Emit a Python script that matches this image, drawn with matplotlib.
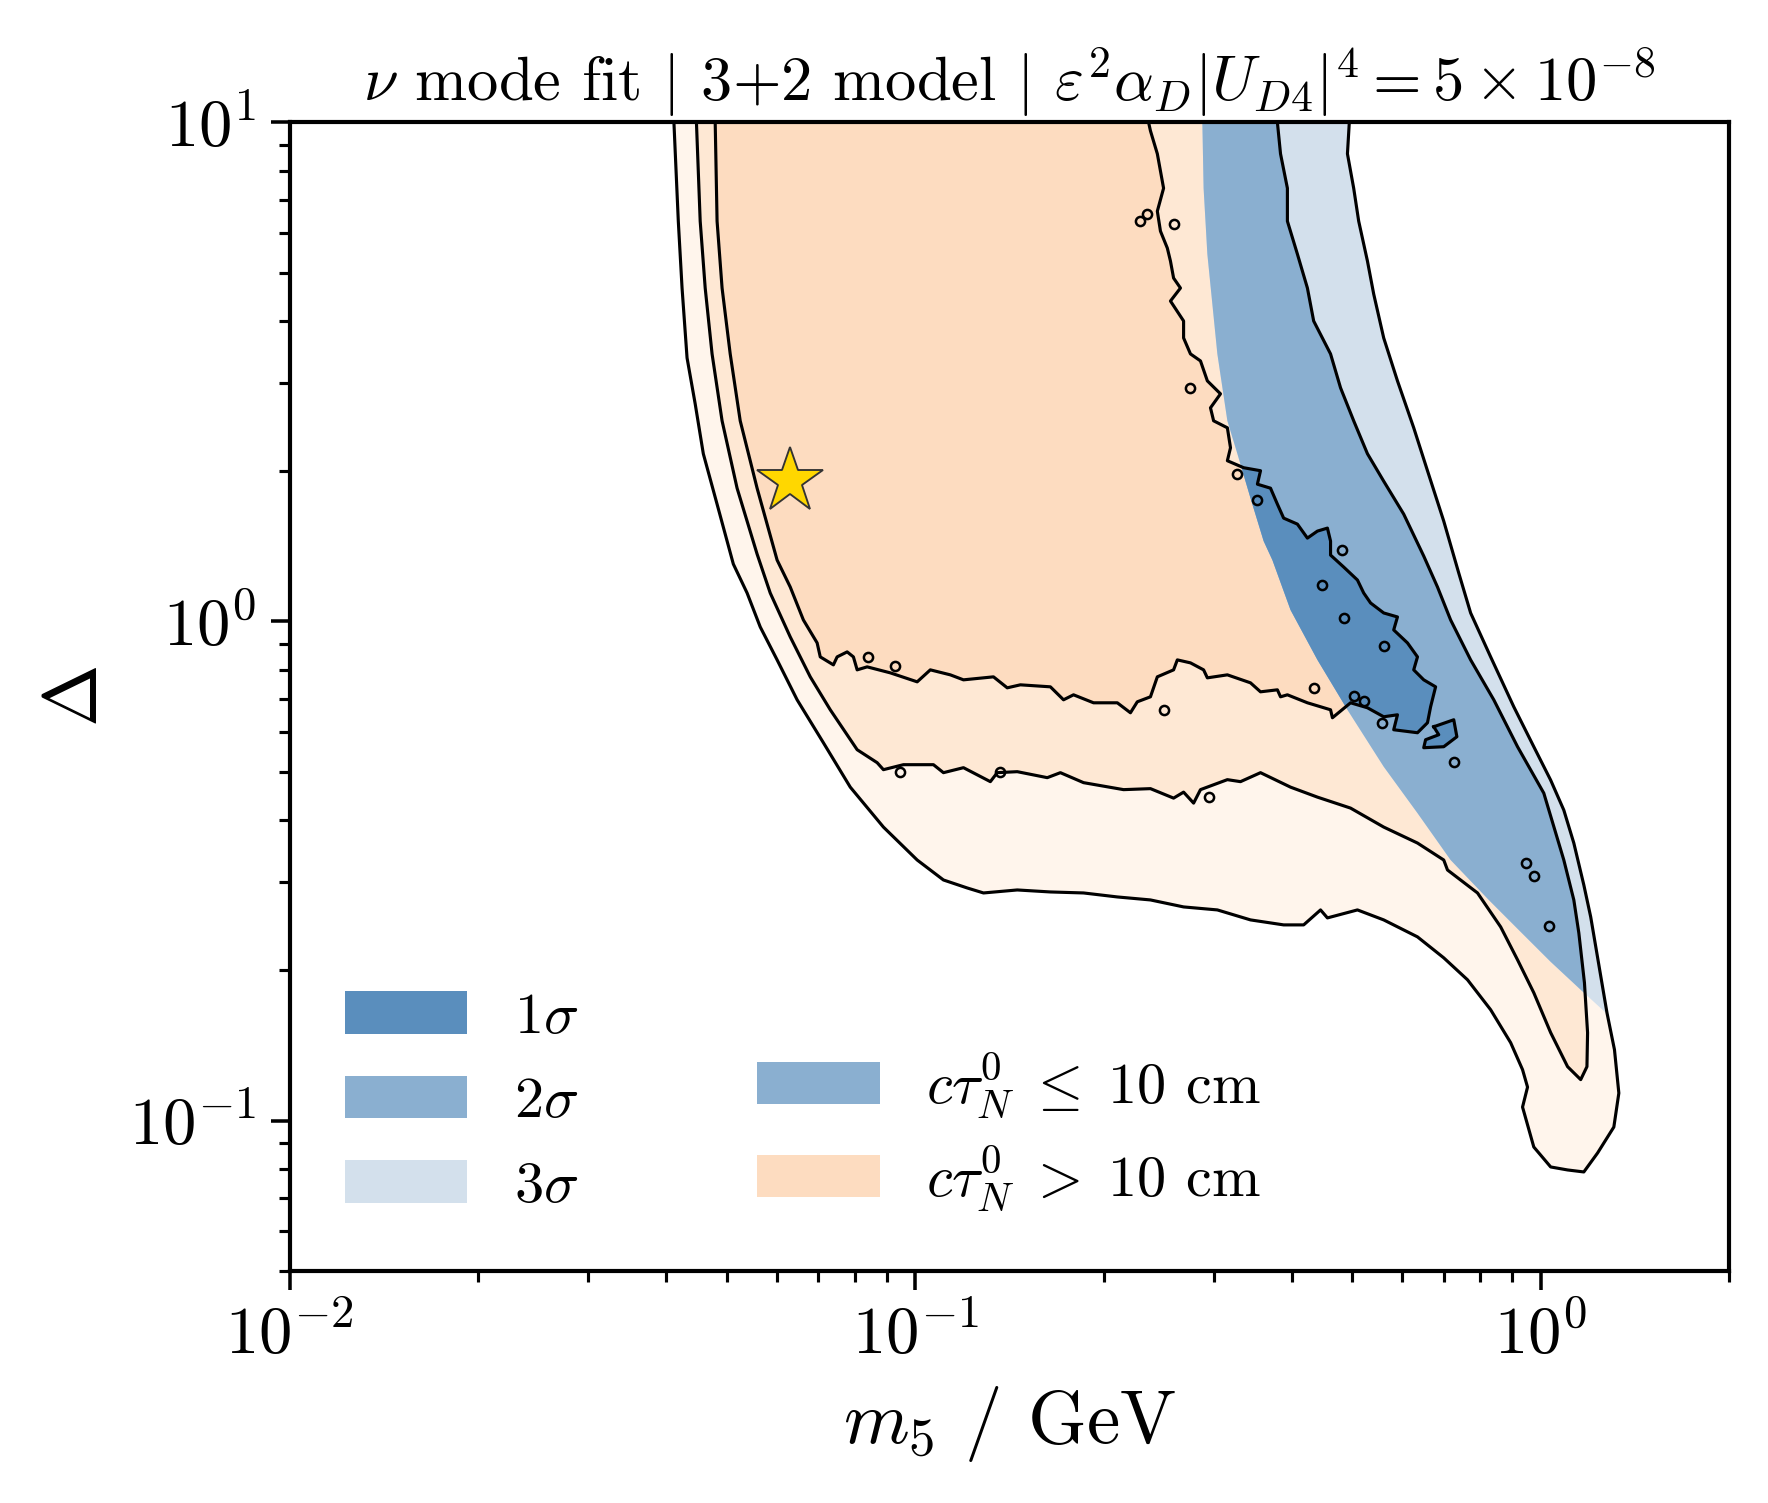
import numpy as np
import matplotlib
matplotlib.use("Agg")
import matplotlib.pyplot as plt
from matplotlib.patches import Polygon, Patch

plt.rcParams.update({
    "font.family": "serif",
    "font.serif": ["cmr10"],
    "mathtext.fontset": "cm",
    "axes.unicode_minus": False,
    "axes.formatter.use_mathtext": True,
})

# ---------------- data (log10 m5 [GeV], log10 Delta) ----------------
# 3 sigma contour (open path, from top-left, around the bottom, back up to the top-right)
sig3_log_m5 = [-1.386, -1.384, -1.379, -1.373, -1.365, -1.352, -1.339, -1.317, -1.291, -1.269,
               -1.248, -1.221, -1.189, -1.147, -1.104, -1.051, -0.997, -0.955, -0.917, -0.891,
               -0.837, -0.784, -0.731, -0.677, -0.624, -0.571, -0.517, -0.464, -0.411, -0.379,
               -0.352, -0.341, -0.293, -0.251, -0.197, -0.155, -0.117, -0.080, -0.048, -0.029,
               -0.021, -0.029, -0.011, 0.016, 0.043, 0.069, 0.091, 0.117, 0.125, 0.118,
               0.106, 0.093, 0.080, 0.069, 0.053, 0.037, 0.016, -0.011, -0.043, -0.080,
               -0.112, -0.131, -0.155, -0.181, -0.203, -0.229, -0.251, -0.267, -0.277, -0.291,
               -0.299, -0.309, -0.306]
sig3_log_delta = [1.000, 0.943, 0.802, 0.668, 0.528, 0.436, 0.336, 0.235, 0.115, 0.057,
                  -0.011, -0.077, -0.157, -0.243, -0.332, -0.412, -0.478, -0.518, -0.534, -0.544,
                  -0.538, -0.542, -0.544, -0.552, -0.558, -0.572, -0.578, -0.598, -0.608, -0.608,
                  -0.578, -0.594, -0.578, -0.598, -0.632, -0.674, -0.718, -0.778, -0.844, -0.898,
                  -0.933, -0.973, -1.053, -1.093, -1.099, -1.103, -1.065, -1.013, -0.945, -0.858,
                  -0.784, -0.688, -0.592, -0.528, -0.444, -0.378, -0.318, -0.251, -0.171, -0.071,
                  0.017, 0.097, 0.201, 0.302, 0.388, 0.482, 0.568, 0.656, 0.722, 0.802,
                  0.868, 0.937, 1.000]

# 2 sigma contour
sig2_log_m5 = [-1.350, -1.344, -1.336, -1.325, -1.309, -1.285, -1.253, -1.232, -1.200, -1.168,
               -1.136, -1.093, -1.061, -1.051, -1.019, -0.971, -0.955, -0.923, -0.880, -0.869,
               -0.837, -0.789, -0.768, -0.731, -0.667, -0.624, -0.587, -0.571, -0.555, -0.544,
               -0.501, -0.480, -0.448, -0.400, -0.357, -0.304, -0.251, -0.197, -0.155, -0.149,
               -0.101, -0.064, -0.037, -0.011, 0.016, 0.043, 0.064, 0.074, 0.075, 0.070,
               0.061, 0.053, 0.037, 0.005, -0.037, -0.075, -0.112, -0.144, -0.165, -0.187,
               -0.219, -0.251, -0.277, -0.299, -0.320, -0.336, -0.363, -0.373, -0.389, -0.405,
               -0.405, -0.416, -0.421]
sig2_log_delta = [1.000, 0.802, 0.668, 0.536, 0.402, 0.267, 0.135, 0.057, -0.031, -0.111,
                  -0.177, -0.257, -0.283, -0.297, -0.287, -0.287, -0.303, -0.293, -0.321, -0.303,
                  -0.301, -0.313, -0.303, -0.323, -0.337, -0.335, -0.354, -0.342, -0.364, -0.337,
                  -0.317, -0.321, -0.303, -0.332, -0.352, -0.374, -0.412, -0.444, -0.478, -0.498,
                  -0.544, -0.612, -0.678, -0.744, -0.824, -0.892, -0.918, -0.892, -0.824, -0.724,
                  -0.624, -0.558, -0.478, -0.344, -0.251, -0.157, -0.077, 0.003, 0.069, 0.131,
                  0.215, 0.281, 0.336, 0.402, 0.468, 0.536, 0.602, 0.668, 0.736, 0.802,
                  0.868, 0.937, 1.000]

# 1 sigma contour
sig1_log_m5 = [-1.320, -1.317, -1.309, -1.296, -1.280, -1.253, -1.221, -1.200, -1.179, -1.157,
               -1.152, -1.131, -1.125, -1.109, -1.099, -1.093, -1.077, -1.040, -0.997, -0.976,
               -0.944, -0.923, -0.875, -0.853, -0.832, -0.784, -0.763, -0.747, -0.715, -0.677,
               -0.656, -0.645, -0.624, -0.613, -0.587, -0.581, -0.560, -0.539, -0.533, -0.501,
               -0.464, -0.448, -0.421, -0.416, -0.405, -0.373, -0.336, -0.333, -0.304, -0.277,
               -0.251, -0.229, -0.235, -0.197, -0.181, -0.176, -0.168, -0.187, -0.203, -0.197,
               -0.213, -0.235, -0.229, -0.251, -0.272, -0.283, -0.293, -0.315, -0.336, -0.336,
               -0.341, -0.357, -0.373, -0.389, -0.411, -0.421, -0.432, -0.453, -0.448, -0.475,
               -0.501, -0.496, -0.501, -0.523, -0.528, -0.512, -0.533, -0.544, -0.560, -0.571,
               -0.571, -0.592, -0.576, -0.587, -0.592, -0.597, -0.608, -0.613, -0.603, -0.613,
               -0.624, -0.627]
sig1_log_delta = [1.000, 0.802, 0.668, 0.536, 0.402, 0.267, 0.123, 0.069, 0.003, -0.043,
                  -0.071, -0.087, -0.071, -0.061, -0.071, -0.097, -0.091, -0.103, -0.121, -0.097,
                  -0.107, -0.117, -0.111, -0.133, -0.127, -0.131, -0.157, -0.147, -0.163, -0.163,
                  -0.183, -0.161, -0.151, -0.111, -0.097, -0.077, -0.083, -0.097, -0.113, -0.107,
                  -0.123, -0.141, -0.137, -0.151, -0.147, -0.163, -0.177, -0.193, -0.163, -0.173,
                  -0.191, -0.187, -0.217, -0.223, -0.203, -0.171, -0.131, -0.117, -0.097, -0.071,
                  -0.043, -0.017, 0.009, 0.017, 0.037, 0.057, 0.083, 0.109, 0.133, 0.161,
                  0.187, 0.181, 0.167, 0.195, 0.207, 0.235, 0.267, 0.275, 0.302, 0.308,
                  0.322, 0.348, 0.388, 0.402, 0.428, 0.456, 0.482, 0.522, 0.536, 0.568,
                  0.602, 0.642, 0.668, 0.688, 0.722, 0.748, 0.782, 0.822, 0.868, 0.937,
                  0.983, 1.000]

# detached 1 sigma lobe
lobe_log_m5 = [-0.171, -0.139, -0.134, -0.155, -0.187, -0.184, -0.163, -0.171]
lobe_log_delta = [-0.211, -0.197, -0.231, -0.251, -0.253, -0.237, -0.227, -0.211]

# small closed contour islands
island_log_m5 = [-0.349, -0.314, -0.251, -0.363, -0.299, -0.283, -0.254, -0.602, -0.138,
                 -0.024, -0.011, 0.013, -0.530, -0.587, -0.560, -0.486, -0.453, -0.317,
                 -0.640, -0.629, -1.075, -1.032, -1.024, -0.864]
island_log_delta = [0.073, 0.007, -0.049, -0.133, -0.149, -0.159, -0.203, -0.177, -0.281,
                    -0.484, -0.510, -0.610, -0.352, 0.796, 0.468, 0.295, 0.243, 0.143,
                    0.802, 0.816, -0.071, -0.089, -0.301, -0.301]

# c tau_N^0 = 10 cm boundary
ctau_log_m5 = [-0.541, -0.539, -0.533, -0.525, -0.517, -0.501, -0.485, -0.464, -0.443, -0.429,
               -0.400, -0.357, -0.309, -0.251, -0.197, -0.144, -0.083, -0.032, 0.016, 0.064, 0.104]
ctau_log_delta = [1.000, 0.868, 0.736, 0.636, 0.536, 0.402, 0.336, 0.247, 0.161, 0.123,
                  0.023, -0.077, -0.177, -0.291, -0.384, -0.478, -0.558, -0.622, -0.682, -0.738, -0.784]

# best fit point
star_m5 = 0.0631
star_delta = 1.91

sigma_labels = [r"$1\sigma$", r"$2\sigma$", r"$3\sigma$"]
ctau_labels = [r"$c\tau_N^0 \;\leq\; 10$ cm", r"$c\tau_N^0 \;>\; 10$ cm"]
title = (r"$\nu$ mode fit $|$ 3+2 model $|$ "
         r"$\varepsilon^2\alpha_D|U_{D4}|^4 = 5\times 10^{-8}$")

# ---------------- styling ----------------
orange = ["#fddcc0", "#fee8d4", "#fff5ec"]   # 1, 2, 3 sigma
blue = ["#5a8ebd", "#8aafd0", "#d3e0ec"]

fig = plt.figure(figsize=(1768 / 300, 1503 / 300), dpi=300)
ax = fig.add_axes([0.1640, 0.1545, 0.8139, 0.7641])
ax.set_xscale("log")
ax.set_yscale("log")
ax.set_xlim(0.01, 2)
ax.set_ylim(0.05, 10)

bx = np.array(ctau_log_m5)
by = np.array(ctau_log_delta)
ex, ey = bx[-1] + 0.5, by[-1] - 0.55
blue_side = np.vstack([[bx[0], 2.0]] + [list(p) for p in zip(bx, by)]
                      + [[ex, ey], [3.0, ey], [3.0, 2.0]])
blue_clip = Polygon(10 ** blue_side, closed=True, transform=ax.transData)


def fill_region(lx, ly, color, clip=None):
    verts = 10 ** np.column_stack([lx, ly])
    p = Polygon(verts, closed=True, facecolor=color, edgecolor="none", lw=0)
    ax.add_patch(p)
    if clip is not None:
        p.set_clip_path(clip)


regions = [(sig3_log_m5, sig3_log_delta, 2), (sig2_log_m5, sig2_log_delta, 1),
           (sig1_log_m5, sig1_log_delta, 0), (lobe_log_m5, lobe_log_delta, 0)]
for lx, ly, k in regions:
    fill_region(lx, ly, orange[k])
for lx, ly, k in regions:
    fill_region(lx, ly, blue[k], blue_clip)

for lx, ly, _ in regions:
    ax.plot(10 ** np.array(lx), 10 ** np.array(ly), color="k", lw=0.75, zorder=3)
ax.plot(10 ** np.array(island_log_m5), 10 ** np.array(island_log_delta), ls="none",
        marker="o", ms=2.2, mfc="none", mec="k", mew=0.6, zorder=3)

ax.plot([star_m5], [star_delta], marker="*", ms=16.5, mfc="#ffd700", mec="#333333",
        mew=0.45, ls="none", zorder=5)

# axes styling
for s in ax.spines.values():
    s.set_linewidth(1.0)
ax.tick_params(which="major", length=4.6, width=0.85, labelsize=16, direction="out")
ax.tick_params(which="minor", length=2.6, width=0.75, direction="out")
ax.set_xlabel(r"$m_5$ / GeV", fontsize=18)
ax.set_ylabel(r"$\Delta$", fontsize=18)
ax.set_title(title, fontsize=15, pad=5)

h1 = [Patch(facecolor=c, edgecolor="none") for c in blue]
leg1 = ax.legend(h1, sigma_labels, loc="lower left", bbox_to_anchor=(0.022, 0.030),
                 frameon=False, fontsize=14, handlelength=2.1, handleheight=0.74,
                 handletextpad=0.8, labelspacing=0.55, borderaxespad=0, borderpad=0.4)
ax.add_artist(leg1)
h2 = [Patch(facecolor=blue[1], edgecolor="none"), Patch(facecolor=orange[0], edgecolor="none")]
ax.legend(h2, ctau_labels, loc="lower left", bbox_to_anchor=(0.3085, 0.029),
          frameon=False, fontsize=14, handlelength=2.1, handleheight=0.74,
          handletextpad=0.8, labelspacing=0.40, borderaxespad=0, borderpad=0.4)

fig.savefig("out.png", dpi=300)
